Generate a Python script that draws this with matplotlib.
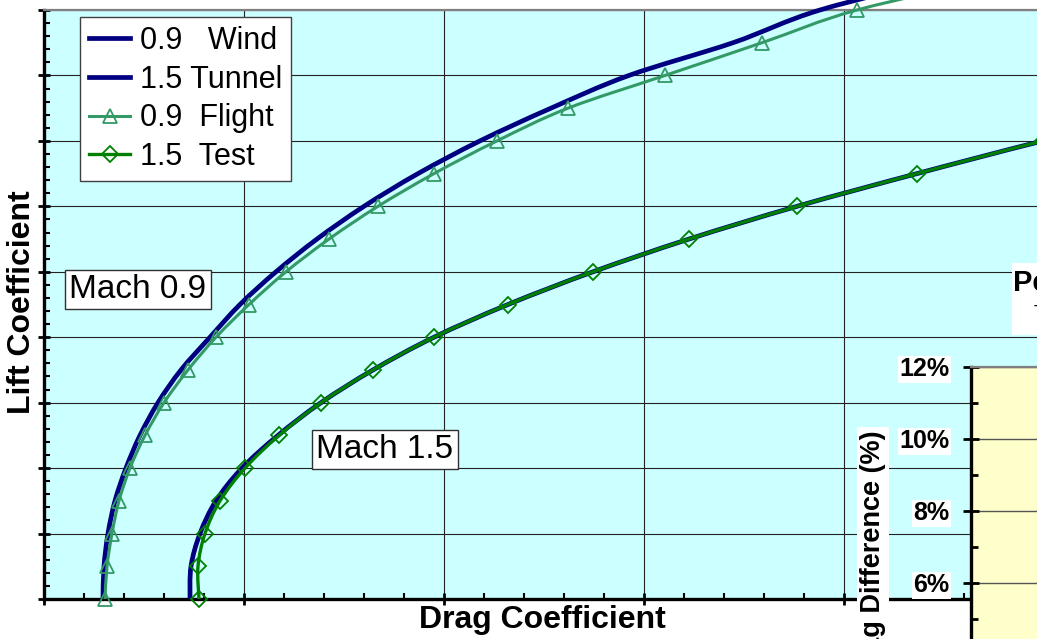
import matplotlib
matplotlib.use("Agg")
import matplotlib.pyplot as plt
import numpy as np
from matplotlib.ticker import MultipleLocator
from matplotlib.patches import Rectangle, PathPatch
from matplotlib.path import Path
from matplotlib.lines import Line2D

plt.rcParams['font.family'] = ['Liberation Sans', 'DejaVu Sans']

# lift coefficient stations (every 0.05)
cl = [0.00, 0.05, 0.10, 0.15, 0.20, 0.25, 0.30, 0.35, 0.40, 0.45,
      0.50, 0.55, 0.60, 0.65, 0.70, 0.75, 0.80, 0.85, 0.90, 0.95]

# Mach 0.9 wind tunnel / flight drag coefficients
cd_tunnel_09 = [0.01295, 0.0130, 0.0132, 0.01355, 0.0141, 0.0148, 0.0157, 0.01685,
                0.0183, 0.0198, 0.0216, 0.02365, 0.026, 0.0287, 0.0318,
                0.03535, 0.03925, 0.04445, 0.0488, 0.0553]
cd_flight_09 = [0.01305, 0.01315, 0.0134, 0.01375, 0.0143, 0.01505, 0.0160, 0.0172,
                0.0186, 0.02025, 0.0221, 0.02425, 0.0267, 0.0295, 0.03265,
                0.0362, 0.04105, 0.0459, 0.05065, 0.0578]

# Mach 1.5 wind tunnel / flight test drag coefficients
cl_15 = cl[:16]
cd_tunnel_15 = [0.0173, 0.01735, 0.0178, 0.0186, 0.0199, 0.0217, 0.02385, 0.02645,
                0.0295, 0.0332, 0.03745, 0.04225, 0.04765, 0.05365, 0.05995, 0.0668]
cd_test_15 = [0.01775, 0.0177, 0.01805, 0.0188, 0.02005, 0.02175, 0.02385, 0.02645,
              0.0295, 0.0332, 0.03745, 0.04225, 0.04765, 0.05365, 0.05995, 0.0668]

# inset percent-difference axis
pct_ticks = [6, 8, 10, 12]
pct_labels = ['6%', '8%', '10%', '12%']

NAVY = '#000080'
SEA = '#339966'
GREEN = '#008000'


def smooth_curve(ax, x, y, color, lw, z):
    # smoothed line through the points (cubic Bezier, Catmull-Rom tangents)
    p = np.column_stack([x, y])
    n = len(p)
    verts = [p[0]]
    codes = [Path.MOVETO]
    for i in range(n - 1):
        a = p[i - 1] if i > 0 else p[i]
        d = p[i + 2] if i + 2 < n else p[i + 1]
        verts += [p[i] + (p[i + 1] - a) / 6, p[i + 1] - (d - p[i]) / 6, p[i + 1]]
        codes += [Path.CURVE4] * 3
    patch = PathPatch(Path(verts, codes), fc='none', ec=color, lw=lw,
                      capstyle='butt', zorder=z, clip_on=False)
    ax.add_patch(patch)


W, H = 1037, 639
fig = plt.figure(figsize=(W / 100, H / 100), dpi=100)

ax = fig.add_axes([44 / W, 40 / H, 1000 / W, 589 / H])
ax.set_facecolor('#CCFFFF')
ax.set_xlim(0.01, 0.06)
ax.set_ylim(0, 0.9)
ax.xaxis.set_major_locator(MultipleLocator(0.01))
ax.xaxis.set_minor_locator(MultipleLocator(0.002))
ax.yaxis.set_major_locator(MultipleLocator(0.1))
ax.yaxis.set_minor_locator(MultipleLocator(0.02))
ax.tick_params(which='major', direction='inout', length=9, width=2,
               labelbottom=False, labelleft=False)
ax.tick_params(which='minor', direction='in', length=4, width=1.5)
ax.grid(which='major', color='#222222', lw=0.8)
ax.set_axisbelow(True)
for s in ('left', 'bottom'):
    ax.spines[s].set_linewidth(2.4)
ax.spines['top'].set_color('#808080')
ax.spines['top'].set_linewidth(1.6)
ax.spines['right'].set_visible(False)

smooth_curve(ax, cd_tunnel_09, cl, NAVY, 3.4, 3)
smooth_curve(ax, cd_tunnel_15, cl_15, NAVY, 3.4, 3)
smooth_curve(ax, cd_flight_09, cl, SEA, 2.2, 4)
smooth_curve(ax, cd_test_15, cl_15, GREEN, 2.4, 5)
ax.plot(cd_flight_09, cl, ls='none', marker='^', ms=10, mfc='none',
        mec=SEA, mew=1.3, clip_on=False, zorder=4)
ax.plot(cd_test_15, cl_15, ls='none', marker='D', ms=8, mfc='none',
        mec=GREEN, mew=1.3, clip_on=False, zorder=6)

handles = [
    Line2D([], [], color=NAVY, lw=3.4),
    Line2D([], [], color=NAVY, lw=3.4),
    Line2D([], [], color=SEA, lw=2.2, marker='^', ms=10, mfc='none',
           mec=SEA, mew=1.3),
    Line2D([], [], color=GREEN, lw=2.4, marker='D', ms=8, mfc='none',
           mec=GREEN, mew=1.3),
]
labels = ['0.9   Wind', '1.5 Tunnel', '0.9  Flight', '1.5  Test']
leg = ax.legend(handles, labels, loc='upper left',
                bbox_to_anchor=(80 / W, 1 - 17 / H),
                bbox_transform=fig.transFigure, fontsize=22, numpoints=1,
                frameon=True, fancybox=False, framealpha=1, borderpad=0.3,
                labelspacing=0.28, handlelength=1.35, handletextpad=0.3,
                borderaxespad=0)
leg.get_frame().set_edgecolor('#404040')
leg.get_frame().set_linewidth(1.0)

box = dict(boxstyle='square,pad=0.12', fc='white', ec='#303030', lw=1.0)
fig.text(138 / W, 1 - 289 / H, 'Mach 0.9', fontsize=24, ha='center',
         va='center', bbox=box)
fig.text(385 / W, 1 - 449 / H, 'Mach 1.5', fontsize=24, ha='center',
         va='center', bbox=box)

fig.text(542 / W, 1 - 620 / H, 'Drag Coefficient', fontsize=23,
         fontweight='bold', ha='center', va='center')
fig.text(22 / W, 1 - 302 / H, 'Lift Coefficient', fontsize=23,
         fontweight='bold', ha='center', va='center', rotation=90)

# percent difference inset
ins = fig.add_axes([971 / W, -160 / H, 200 / W, 432 / H])
ins.set_facecolor('#FFFFCC')
ins.set_ylim(0, 12)
ins.set_xlim(0, 1)
ins.yaxis.set_minor_locator(MultipleLocator(1))
ins.set_yticks(pct_ticks)
ins.set_yticklabels(pct_labels)
ins.tick_params(axis='y', which='major', direction='inout', length=11,
                width=2, labelsize=18, pad=10)
ins.tick_params(axis='y', which='minor', direction='in', length=5, width=2)
ins.tick_params(axis='x', bottom=False, labelbottom=False)
for lab in ins.get_yticklabels():
    lab.set_fontweight('bold')
    lab.set_bbox(dict(boxstyle='square,pad=0.05', fc='white', ec='none'))
ins.grid(axis='y', color='#555555', lw=1.0)
ins.set_axisbelow(True)
ins.spines['left'].set_linewidth(2.4)
ins.spines['top'].set_color('#808080')
ins.spines['top'].set_linewidth(1.6)

fig.text(873 / W, 1 - 430 / H, 'Drag Difference (%)', fontsize=19.5,
         fontweight='bold', ha='center', va='top', rotation=90,
         bbox=dict(boxstyle='square,pad=0.1', fc='white', ec='none'))

fig.patches.append(Rectangle((1012 / W, 1 - 335 / H), 100 / W, 72 / H,
                             transform=fig.transFigure, fc='white', ec='none',
                             zorder=5))
fig.text(1013 / W, 1 - 283 / H, 'Percent Drag Difference', fontsize=21,
         fontweight='bold', ha='left', va='center', zorder=6)
fig.text(1034 / W, 1 - 314 / H, 'Tunnel vs. Flight', fontsize=14,
         ha='left', va='center', zorder=6)

fig.savefig('out.png', dpi=100)
